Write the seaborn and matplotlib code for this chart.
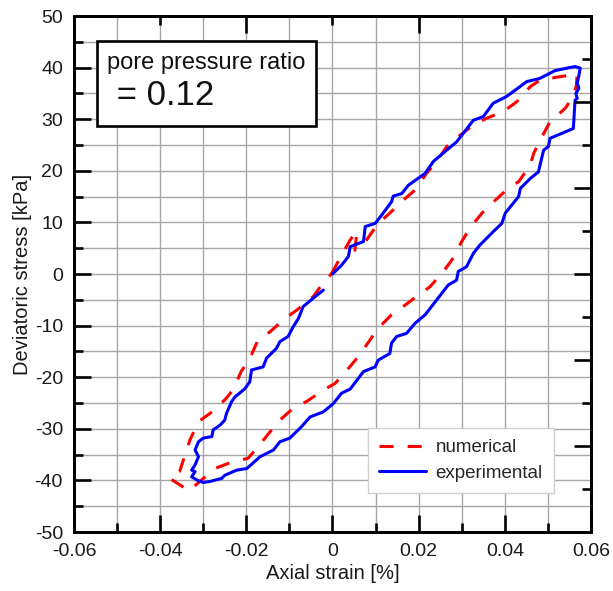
import numpy as np
import pandas as pd
import matplotlib
matplotlib.use("Agg")
import matplotlib.pyplot as plt
import seaborn as sns
from matplotlib.patches import Rectangle
from matplotlib.ticker import MultipleLocator, FixedLocator, NullFormatter

# --- DATA ---
exp_strain = [0.0, 0.0021, 0.0037, 0.0041, 0.0072, 0.0076, 0.0099, 0.0114, 0.0137, 0.0141,
              0.0161, 0.0176, 0.0215, 0.0234, 0.0265, 0.0288, 0.0327, 0.0350, 0.0373, 0.0404,
              0.0451, 0.0481, 0.0516, 0.0544, 0.0563, 0.0575, 0.0572, 0.0568, 0.0572, 0.0565,
              0.0568, 0.0563, 0.0559, 0.0505, 0.0501, 0.0490, 0.0478, 0.0459, 0.0436, 0.0432,
              0.0401, 0.0393, 0.0373, 0.0342, 0.0327, 0.0311, 0.0292, 0.0288, 0.0269, 0.0242,
              0.0215, 0.0191, 0.0172, 0.0149, 0.0137, 0.0133, 0.0106, 0.0099, 0.0072, 0.0041,
              0.0021, 0.0002, -0.0021, -0.0052, -0.0072, -0.0099, -0.0122, -0.0137, -0.0168, -0.0199,
              -0.0222, -0.0250, -0.0257, -0.0284, -0.0300, -0.0315, -0.0327, -0.0319, -0.0327, -0.0319,
              -0.0311, -0.0319, -0.0311, -0.0300, -0.0280, -0.0277, -0.0261, -0.0250, -0.0246, -0.0234,
              -0.0226, -0.0203, -0.0192, -0.0188, -0.0161, -0.0153, -0.0130, -0.0122, -0.0103, -0.0091,
              -0.0079, -0.0068, -0.0045, -0.0021]
exp_stress = [0.0, 1.7, 3.4, 5.3, 6.3, 9.2, 9.8, 11.4, 14.0, 15.1,
              15.6, 17.2, 19.5, 21.8, 24.0, 25.6, 29.8, 30.5, 33.1, 34.4,
              37.3, 37.9, 39.4, 39.9, 40.2, 39.9, 38.5, 37.0, 36.0, 35.0,
              34.0, 33.7, 28.2, 26.3, 24.7, 24.0, 19.8, 18.5, 16.6, 15.0,
              11.8, 9.8, 8.2, 5.6, 4.0, 1.4, 0.5, -1.2, -2.1, -5.0,
              -7.9, -9.6, -11.5, -12.1, -13.4, -15.4, -16.7, -18.0, -18.9, -22.3,
              -23.1, -25.1, -26.7, -27.7, -29.6, -31.8, -32.5, -34.1, -35.4, -37.7,
              -38.0, -39.0, -39.6, -40.2, -40.4, -39.9, -39.3, -38.3, -38.0, -37.0,
              -35.4, -34.1, -32.5, -31.8, -31.5, -30.2, -29.3, -28.3, -27.0, -24.7,
              -23.8, -22.2, -20.9, -18.6, -18.0, -16.3, -14.4, -13.1, -12.1, -10.2,
              -8.6, -6.3, -4.7, -3.1]

num_strain = [-0.0002, 0.0017, 0.0041, 0.0057, 0.0052, 0.0079, 0.0106, 0.0133, 0.0164, 0.0192,
              0.0218, 0.0242, 0.0265, 0.0292, 0.0327, 0.0358, 0.0397, 0.0428, 0.0459, 0.0482,
              0.0525, 0.0555, 0.0568, 0.0566, 0.0559, 0.0540, 0.0505, 0.0490, 0.0467, 0.0459,
              0.0432, 0.0404, 0.0370, 0.0347, 0.0319, 0.0300, 0.0277, 0.0257, 0.0226, 0.0199,
              0.0164, 0.0137, 0.0106, 0.0087, 0.0060, 0.0037, 0.0006, -0.0021, -0.0060, -0.0091,
              -0.0126, -0.0145, -0.0176, -0.0196, -0.0242, -0.0273, -0.0305, -0.0333, -0.0378, -0.0355,
              -0.0342, -0.0331, -0.0311, -0.0284, -0.0250, -0.0231, -0.0212, -0.0192, -0.0173, -0.0145,
              -0.0110, -0.0083, -0.0045, -0.0025, -0.0002]
num_stress = [0.1, 3.0, 6.6, 8.4, 4.6, 6.6, 9.8, 11.8, 14.3, 16.3,
              19.5, 21.8, 24.7, 26.6, 28.9, 30.2, 31.5, 33.4, 36.3, 37.6,
              38.2, 38.6, 38.8, 36.5, 34.4, 32.1, 29.5, 27.2, 23.4, 21.1,
              17.9, 16.3, 13.7, 11.8, 8.9, 6.3, 2.7, 0.45, -2.5, -4.1,
              -6.3, -7.9, -10.5, -12.8, -16.0, -18.3, -21.2, -22.5, -24.7, -26.0,
              -28.6, -30.6, -33.8, -35.7, -36.7, -37.7, -40.0, -42.0, -39.6, -38.3,
              -35.0, -32.2, -28.6, -27.0, -24.4, -22.5, -18.9, -16.4, -12.8, -11.2,
              -8.6, -7.0, -4.4, -2.1, 0.1]

x_ticks = [-0.06, -0.04, -0.02, 0, 0.02, 0.04, 0.06]
x_ticklabels = ["-0.06", "-0.04", "-0.02", "0", "0.02", "0.04", "0.06"]
y_ticks = [-50, -40, -30, -20, -10, 0, 10, 20, 30, 40, 50]
y_ticklabels = ["-50", "-40", "-30", "-20", "-10", "0", "10", "20", "30", "40", "50"]

sns.set_theme(style="white")
plt.rcParams['font.family'] = ['Liberation Sans', 'DejaVu Sans']
plt.rcParams['axes.unicode_minus'] = False

fig = plt.figure(figsize=(6.13, 5.91), dpi=100)
ax = fig.add_axes([0.1207, 0.0998, 0.8434, 0.8731])

df_num = pd.DataFrame({'strain': num_strain, 'stress': num_stress})
df_exp = pd.DataFrame({'strain': exp_strain, 'stress': exp_stress})

sns.lineplot(data=df_num, x='strain', y='stress', sort=False, estimator=None, ax=ax,
             color='#ff0000', linewidth=2.2, linestyle=(0, (4.6, 4.6)), label='numerical', zorder=3)
sns.lineplot(data=df_exp, x='strain', y='stress', sort=False, estimator=None, ax=ax,
             color='#0000ff', linewidth=2.2, label='experimental', zorder=4)

ax.set_xlim(-0.06, 0.06)
ax.set_ylim(-50, 50)
ax.xaxis.set_major_locator(FixedLocator(x_ticks))
ax.set_xticklabels(x_ticklabels)
ax.xaxis.set_minor_locator(MultipleLocator(0.01))
ax.yaxis.set_major_locator(FixedLocator(y_ticks))
ax.set_yticklabels(y_ticklabels)
ax.yaxis.set_minor_locator(MultipleLocator(5))

ax.grid(True, which='both', color='#a6a6a6', linewidth=1.0)
ax.set_axisbelow(True)

for s in ax.spines.values():
    s.set_color('black')
    s.set_linewidth(1.9)

ax.tick_params(axis='both', which='major', direction='in', length=12, width=1.9,
               color='black', labelsize=14, labelcolor='#1a1a1a',
               bottom=True, left=True, top=False, right=False, pad=8)
ax.tick_params(axis='both', which='minor', direction='in', length=6.5, width=1.9,
               color='black', bottom=True, left=True, top=False, right=False)

# top tick marks (no labels)
axt = ax.twiny()
axt.set_xlim(-0.06, 0.06)
axt.xaxis.set_major_locator(FixedLocator([-0.06, -0.02, 0.02, 0.06]))
axt.xaxis.set_minor_locator(FixedLocator([-0.04, 0.0, 0.04]))
axt.xaxis.set_major_formatter(NullFormatter())
axt.tick_params(axis='x', which='major', direction='in', length=12, width=1.9, color='black',
                top=True, bottom=False)
axt.tick_params(axis='x', which='minor', direction='in', length=6.5, width=1.9, color='black',
                top=True, bottom=False)
axt.grid(False)
for s in axt.spines.values():
    s.set_linewidth(1.9)
    s.set_color('black')

# right tick marks (no labels), 12 equal divisions
axr = axt.twinx()
axr.set_ylim(0, 12)
axr.yaxis.set_major_locator(FixedLocator([0, 2, 4, 6, 8, 10, 12]))
axr.yaxis.set_minor_locator(FixedLocator([1, 3, 5, 7, 9, 11]))
axr.yaxis.set_major_formatter(NullFormatter())
axr.tick_params(axis='y', which='major', direction='in', length=12, width=1.9, color='black',
                right=True, left=False)
axr.tick_params(axis='y', which='minor', direction='in', length=6.5, width=1.9, color='black',
                right=True, left=False)
axr.grid(False)
for s in axr.spines.values():
    s.set_linewidth(1.9)
    s.set_color('black')

ax.set_xlabel('Axial strain [%]', fontsize=14.5, color='#1a1a1a', labelpad=3)
ax.set_ylabel('Deviatoric stress [kPa]', fontsize=14.5, color='#1a1a1a', labelpad=2)

# annotation box (drawn on the topmost axes so it hides grid and ticks)
axr.add_patch(Rectangle((0.0445, 0.787), 0.4236, 0.1647, transform=ax.transAxes,
                        facecolor='white', edgecolor='black', linewidth=1.9, zorder=5))
axr.text(0.064, 0.909, 'pore pressure ratio', transform=ax.transAxes, fontsize=17,
         va='center', ha='left', color='#111111', zorder=6)
axr.text(0.064, 0.845, ' = 0.12', transform=ax.transAxes, fontsize=25,
         va='center', ha='left', color='#111111', zorder=6)

h, l = ax.get_legend_handles_labels()
leg = axr.legend(h, l, loc='lower left', bbox_to_anchor=(0.569, 0.0756),
                 bbox_transform=ax.transAxes, borderaxespad=0,
                 fancybox=False, framealpha=1, edgecolor='#d0d0d0', fontsize=13.5,
                 handlelength=2.5, handletextpad=0.5, borderpad=0.6, labelspacing=0.45)
leg.get_frame().set_linewidth(1.0)
if ax.get_legend() is not None:
    ax.get_legend().remove()

fig.savefig('out.png', dpi=100)
